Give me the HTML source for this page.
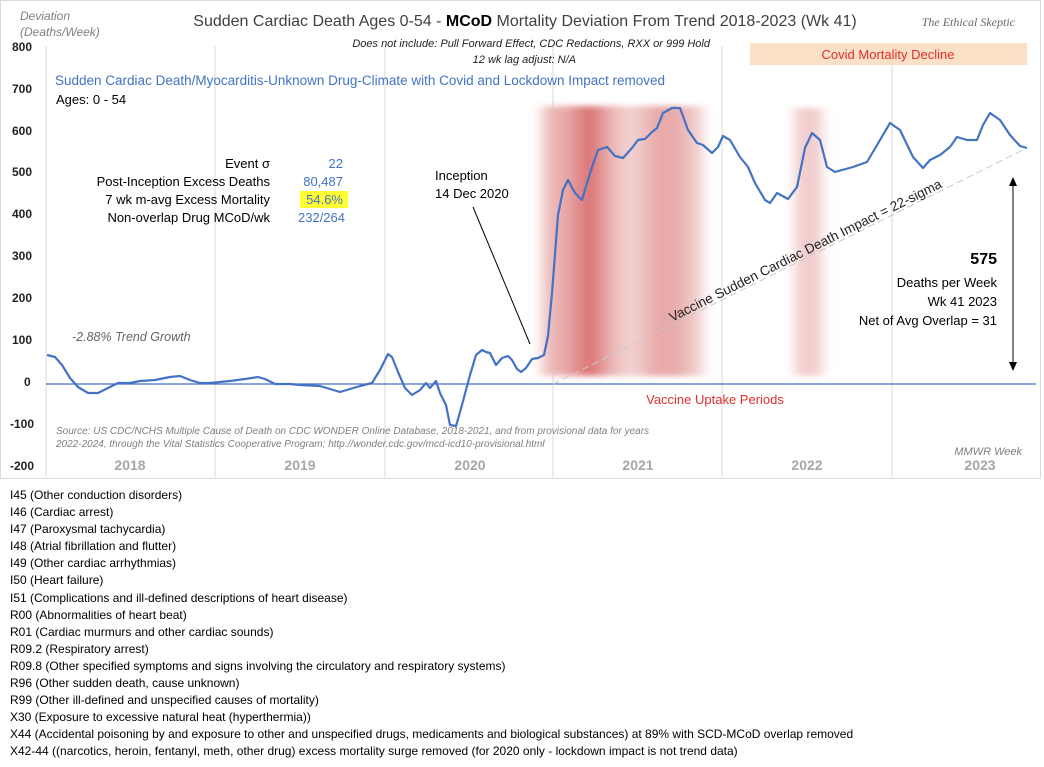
<!DOCTYPE html>
<html><head><meta charset="utf-8"><style>
body{margin:0;background:#fff;width:1044px;height:767px;overflow:hidden;font-family:"Liberation Sans",sans-serif;}
.list{position:absolute;left:10px;top:487px;font-size:12px;line-height:17.1px;color:#000;}
</style></head><body>
<svg width="1044" height="480" style="position:absolute;left:0;top:0" font-family="Liberation Sans, sans-serif">
<defs>
<filter id="b" x="-50%" y="-10%" width="200%" height="120%"><feGaussianBlur stdDeviation="6 3"/></filter>
<linearGradient id="g1" x1="0" x2="1"><stop offset="0" stop-color="#f0c4c4"/><stop offset="0.15" stop-color="#e8a8a8"/><stop offset="0.3" stop-color="#db6e6e"/><stop offset="0.42" stop-color="#eab3b3"/><stop offset="0.55" stop-color="#f3d6d6"/><stop offset="0.72" stop-color="#e7a5a5"/><stop offset="0.85" stop-color="#e9aeae"/><stop offset="1" stop-color="#f6dede"/></linearGradient>
</defs>
<rect x="0.5" y="0.5" width="1040" height="478" fill="#fff" stroke="#d9d9d9"/>
<g stroke="#d9d9d9"><line x1="46" y1="46" x2="46" y2="477"/><line x1="215" y1="46" x2="215" y2="477"/><line x1="385" y1="46" x2="385" y2="477"/><line x1="553" y1="46" x2="553" y2="477"/><line x1="722" y1="46" x2="722" y2="477"/><line x1="892" y1="46" x2="892" y2="477"/></g>
<g filter="url(#b)"><rect x="542" y="106" width="162" height="270" fill="url(#g1)"/><rect x="795" y="108" width="27" height="268" fill="#f1cccc"/></g>
<rect x="750" y="43" width="277" height="22" fill="#fbe0c8"/>
<text x="888" y="59" font-size="13" fill="#e0302a" text-anchor="middle">Covid Mortality Decline</text>
<line x1="46" y1="384" x2="1036" y2="384" stroke="#4472c4" stroke-width="1.3"/>
<line x1="553" y1="384" x2="1027" y2="148" stroke="#c8c8c8" stroke-dasharray="7 4"/>
<text transform="translate(672,322) rotate(-26.5)" font-size="13.5" fill="#222">Vaccine Sudden Cardiac Death Impact = 22-sigma</text>
<polyline fill="none" stroke="#4472c4" stroke-width="2.2" stroke-linejoin="round" points="47,355 55,357 62,365 70,378 78,387 88,393 98,393 108,388 118,383 130,383 140,381 155,380 170,377 180,376 190,380 200,383 210,383 220,382 230,381 245,379 258,377 265,379 275,384 290,384 300,385 320,386 330,389 340,392 350,389 360,386 372,383 380,370 388,354 392,357 398,372 405,388 412,395 420,390 426,383 430,388 436,381 440,393 446,405 450,425 456,426 462,405 470,375 476,355 482,350 486,352 490,353 496,365 502,358 508,356 512,360 517,369 521,372 526,368 532,359 538,358 544,355 548,336 552,293 558,215 563,190 568,180 575,193 582,200 590,173 598,150 607,147 615,156 623,158 632,148 638,140 645,139 652,132 657,128 663,113 672,108 680,108 688,130 697,143 703,145 712,153 718,147 723,136 730,140 740,157 748,167 755,183 765,200 770,203 777,193 788,199 797,187 805,148 812,133 820,140 827,167 835,172 842,170 853,167 867,162 880,140 890,123 900,130 913,157 923,168 930,160 940,155 950,147 957,137 967,140 977,140 983,125 990,113 1000,120 1010,135 1020,146 1027,148"/>
<line x1="1013" y1="182" x2="1013" y2="366" stroke="#000"/>
<polygon points="1013,177 1009,186 1017,186"/><polygon points="1013,371 1009,362 1017,362"/>
<line x1="473" y1="207" x2="530" y2="344" stroke="#000"/>
<g font-size="12" font-weight="bold" fill="#222"><text x="12" y="51">800</text><text x="12" y="93">700</text><text x="12" y="135">600</text><text x="12" y="176">500</text><text x="12" y="218">400</text><text x="12" y="260">300</text><text x="12" y="302">200</text><text x="12" y="344">100</text><text x="24" y="386">0</text><text x="10" y="428">-100</text><text x="10" y="470">-200</text></g>
<g font-size="14" font-weight="bold" fill="#a6a6a6" text-anchor="middle"><text x="130" y="470">2018</text><text x="300" y="470">2019</text><text x="470" y="470">2020</text><text x="638" y="470">2021</text><text x="807" y="470">2022</text><text x="980" y="470">2023</text></g>
<text x="20" y="20" font-size="12" font-style="italic" fill="#7f7f7f">Deviation</text>
<text x="20" y="36" font-size="12" font-style="italic" fill="#7f7f7f">(Deaths/Week)</text>
<text x="525" y="26" font-size="16" fill="#404040" text-anchor="middle">Sudden Cardiac Death Ages 0-54 - <tspan font-weight="bold" fill="#000">MCoD</tspan> Mortality Deviation From Trend  2018-2023 (Wk 41)</text>
<text x="1015" y="26" font-size="12" font-style="italic" fill="#666" text-anchor="end" font-family="Liberation Serif, serif">The Ethical Skeptic</text>
<text x="710" y="47" font-size="11" font-style="italic" fill="#222" text-anchor="end">Does not include: Pull Forward Effect,  CDC Redactions, RXX or 999 Hold</text>
<text x="576" y="63" font-size="11" font-style="italic" fill="#222" text-anchor="end">12 wk lag adjust: N/A</text>
<text x="55" y="85" font-size="13.5" fill="#4472c4">Sudden Cardiac Death/Myocarditis-Unknown Drug-Climate with Covid and Lockdown Impact removed</text>
<text x="56" y="104" font-size="13" fill="#000">Ages: 0 - 54</text>
<g font-size="13" fill="#000" text-anchor="end"><text x="270" y="168">Event σ</text><text x="270" y="186">Post-Inception Excess Deaths</text><text x="270" y="204">7 wk m-avg Excess Mortality</text><text x="270" y="222">Non-overlap Drug MCoD/wk</text></g>
<rect x="300" y="191" width="48" height="17" fill="#ffff33"/>
<g font-size="13" fill="#4472c4" text-anchor="end"><text x="343" y="168">22</text><text x="343" y="186">80,487</text><text x="343" y="204">54.6%</text><text x="345" y="222">232/264</text></g>
<text x="435" y="180" font-size="13" fill="#000">Inception</text>
<text x="435" y="198" font-size="13" fill="#000">14 Dec 2020</text>
<text x="997" y="264" font-size="16" font-weight="bold" text-anchor="end">575</text>
<g font-size="13" text-anchor="end"><text x="997" y="287">Deaths per Week</text><text x="997" y="306">Wk 41 2023</text><text x="997" y="325">Net of Avg Overlap =  31</text></g>
<text x="72" y="341" font-size="12.5" font-style="italic" fill="#666">-2.88% Trend Growth</text>
<text x="715" y="404" font-size="13" fill="#e0302a" text-anchor="middle">Vaccine Uptake Periods</text>
<text x="56" y="434" font-size="10" font-style="italic" fill="#7f7f7f">Source: US CDC/NCHS Multiple Cause of Death on CDC WONDER Online Database, 2018-2021, and from provisional data for years</text>
<text x="56" y="447" font-size="10" font-style="italic" fill="#7f7f7f">2022-2024, through the Vital Statistics Cooperative Program; http://wonder.cdc.gov/mcd-icd10-provisional.html</text>
<text x="1022" y="455" font-size="11" font-style="italic" fill="#7f7f7f" text-anchor="end">MMWR Week</text>
</svg>
<div class="list">
I45 (Other conduction  disorders)<br>I46 (Cardiac arrest)<br>I47 (Paroxysmal tachycardia)<br>I48 (Atrial fibrillation and flutter)<br>I49 (Other cardiac arrhythmias)<br>I50 (Heart failure)<br>I51 (Complications  and ill-defined descriptions of heart disease)<br>R00 (Abnormalities of heart beat)<br>R01 (Cardiac murmurs and other cardiac sounds)<br>R09.2 (Respiratory arrest)<br>R09.8 (Other specified symptoms and signs involving the circulatory and respiratory systems)<br>R96 (Other sudden death, cause unknown)<br>R99 (Other ill-defined and unspecified causes of mortality)<br>X30 (Exposure to excessive natural heat (hyperthermia))<br>X44 (Accidental poisoning  by and exposure to other and unspecified  drugs, medicaments and biological substances) at 89% with SCD-MCoD overlap removed<br>X42-44 ((narcotics, heroin, fentanyl, meth, other drug) excess mortality surge removed (for 2020 only - lockdown impact is not trend data)
</div>
</body></html>
